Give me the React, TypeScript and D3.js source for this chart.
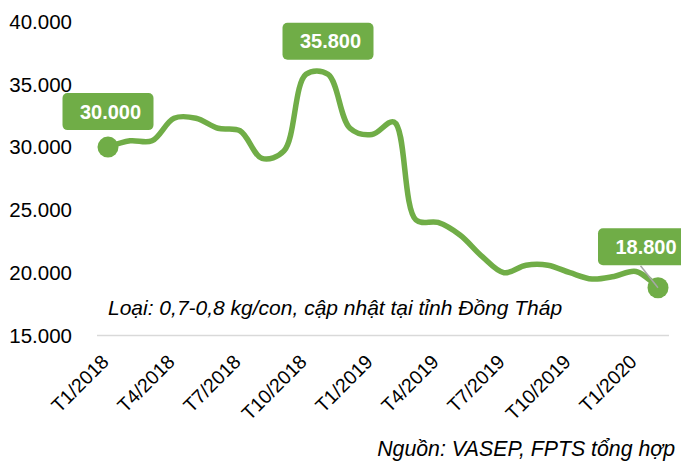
import React from 'react';
import * as d3 from 'd3';

const months = [
  'T1/2018', 'T2/2018', 'T3/2018', 'T4/2018', 'T5/2018', 'T6/2018',
  'T7/2018', 'T8/2018', 'T9/2018', 'T10/2018', 'T11/2018', 'T12/2018',
  'T1/2019', 'T2/2019', 'T3/2019', 'T4/2019', 'T5/2019', 'T6/2019',
  'T7/2019', 'T8/2019', 'T9/2019', 'T10/2019', 'T11/2019', 'T12/2019',
  'T1/2020', 'T2/2020',
];
const prices = [
  30000, 30500, 30500, 32300, 32300, 31500,
  31300, 29100, 29700, 35800, 35800, 31500,
  31000, 32000, 24200, 24000, 23000, 21300,
  20000, 20600, 20600, 20000, 19500, 19700,
  20100, 18800,
];
const shownTicks = ['T1/2018', 'T4/2018', 'T7/2018', 'T10/2018', 'T1/2019', 'T4/2019', 'T7/2019', 'T10/2019', 'T1/2020'];
const yTicks = [15000, 20000, 25000, 30000, 35000, 40000];
const labelIdx = [0, 10, 25];

const W = 681;
const H = 465;
const GREEN = '#70AD47';
const FONT = '"Liberation Sans", Arial, sans-serif';

const vn = d3.formatLocale({decimal: ',', thousands: '.', grouping: [3], currency: ['', '']});
const fmt = vn.format(',.0f');

const App = () => {
  const x = d3.scalePoint<string>().domain(months).range([108, 658]);
  const y = d3.scaleLinear().domain([15000, 40000]).range([335.5, 21.5]);

  const line = d3
    .line<number>()
    .x((_, i) => x(months[i]) as number)
    .y(d => y(d))
    .curve(d3.curveCatmullRom.alpha(0.5));

  // label box offsets from the point (box centre)
  const boxOff: Record<number, [number, number]> = {0: [0, -35.5], 10: [0, -33], 25: [-14.5, -41]};

  return (
    <svg width={W} height={H} style={{position: 'absolute', left: 0, top: 0}} fontFamily={FONT}>
      <rect width={W} height={H} fill="#fff" />
      {yTicks.map(t => (
        <text key={t} x={72} y={y(t)} dy="0.36em" textAnchor="end" fontSize={20.5} fill="#000">
          {fmt(t)}
        </text>
      ))}
      <line x1={97} x2={669} y1={y(15000)} y2={y(15000)} stroke="#D9D9D9" strokeWidth={1.5} />
      {shownTicks.map(m => {
        const px = (x(m) as number) + 2;
        return (
          <text key={m} transform={`translate(${px},363) rotate(-45)`} textAnchor="end" fontSize={19.5} fill="#000">
            {m}
          </text>
        );
      })}
      <path d={line(prices) || ''} fill="none" stroke={GREEN} strokeWidth={5.5} strokeLinecap="round" />
      {[0, prices.length - 1].map(i => (
        <circle key={i} cx={x(months[i])} cy={y(prices[i])} r={10.5} fill={GREEN} />
      ))}
      {labelIdx.map(i => {
        const px = x(months[i]) as number;
        const py = y(prices[i]);
        const [dx, dy] = boxOff[i];
        const cx = px + dx;
        const cy = py + dy;
        return (
          <g key={i}>
            {i === 25 && <line x1={cx - 3} y1={cy + 19} x2={px} y2={py} stroke="#A6A6A6" strokeWidth={1.5} />}
            <rect x={cx - 45.5} y={cy - 18.5} width={91} height={37} rx={5} fill={GREEN} />
            <text x={cx + 2.5} y={cy} dy="0.36em" textAnchor="middle" fontSize={20} fontWeight="bold" fill="#fff">
              {fmt(prices[i])}
            </text>
          </g>
        );
      })}
      <text x={108} y={315} fontSize={21} fontStyle="italic" fill="#000">
        Loại: 0,7-0,8 kg/con, cập nhật tại tỉnh Đồng Tháp
      </text>
      <text x={675} y={456} textAnchor="end" fontSize={21.3} fontStyle="italic" fill="#000">
        Nguồn: VASEP, FPTS tổng hợp
      </text>
    </svg>
  );
};

export default App;
